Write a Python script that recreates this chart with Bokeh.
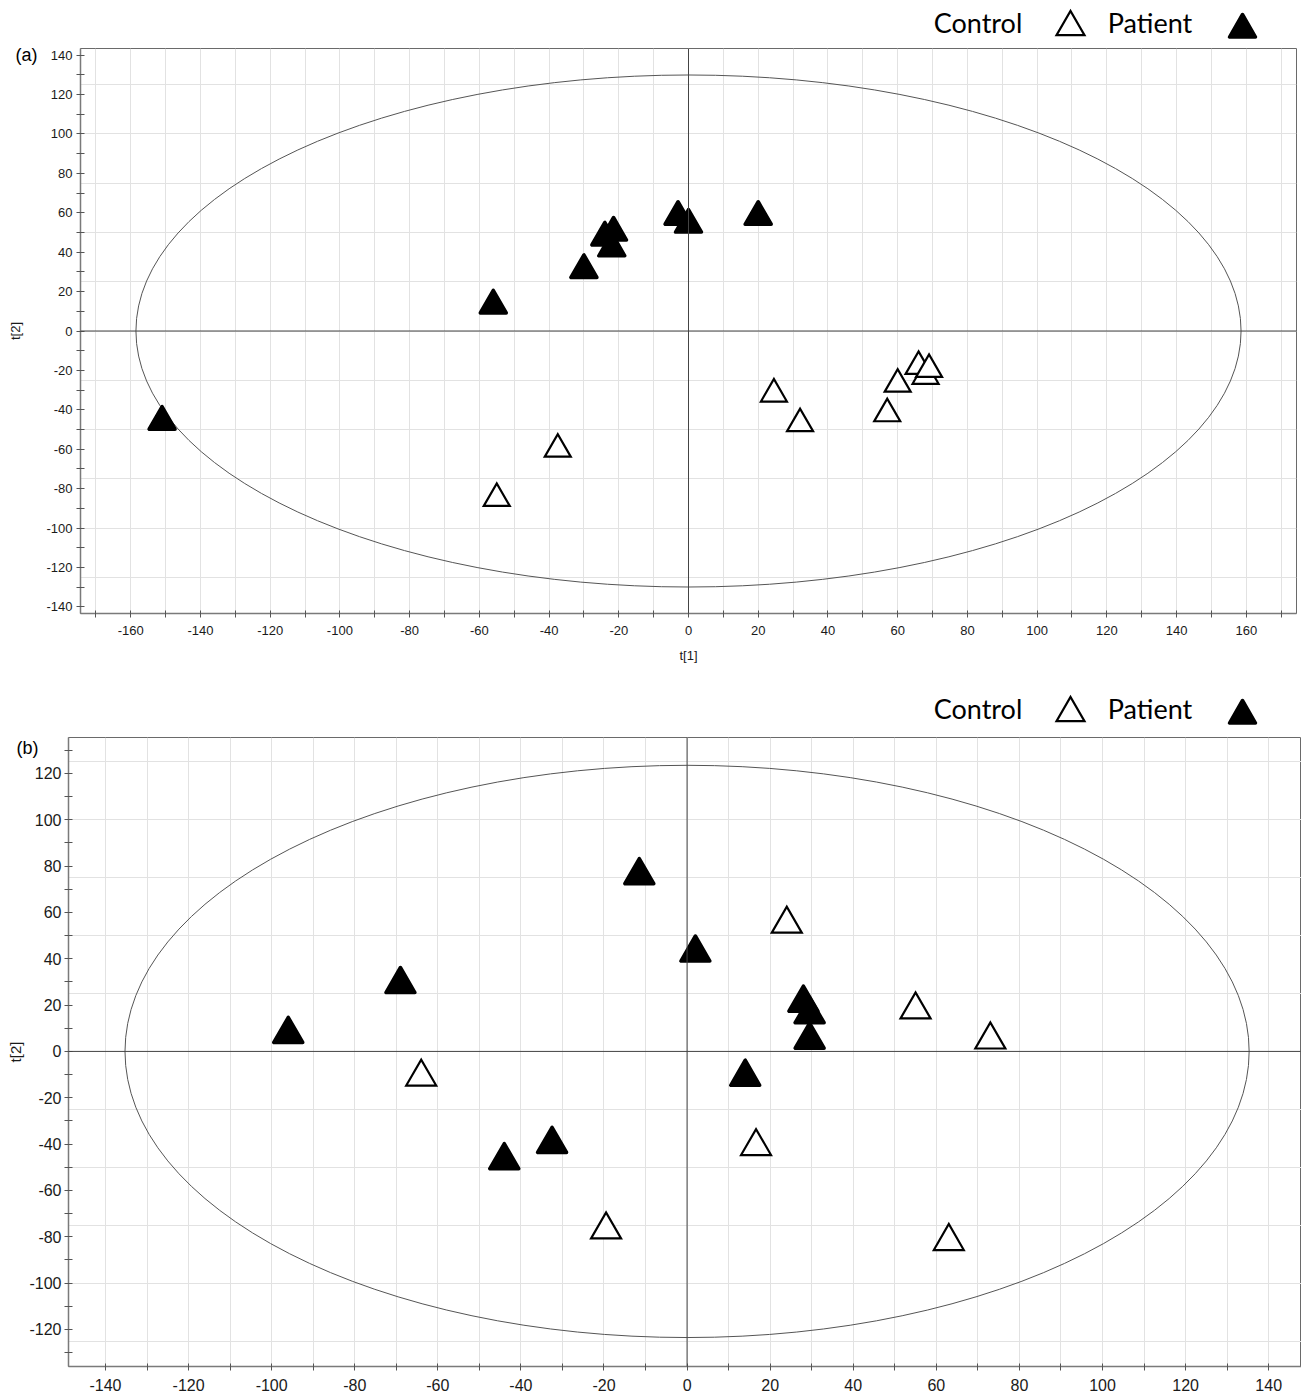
from bokeh.plotting import figure
from bokeh.models import (FixedTicker, Span, ColumnDataSource, Range1d,
                          CustomJSTickFormatter)
from bokeh.layouts import column, row
from bokeh.core.properties import value
from bokeh.embed import file_html
from bokeh.resources import INLINE

# ---------------- data: panel (a) ----------------
a_control_x = [24.5, 32.0, 57.0, 60.0, 68.0, 66.0, 69.0, -55.0, -37.5]
a_control_y = [-32.0, -47.0, -42.0, -27.0, -23.0, -18.0, -19.5, -85.0, -60.0]
a_patient_x = [-151.0, -56.0, -30.0, -24.0, -21.5, -22.0, -3.0, 0.0, 20.0]
a_patient_y = [-46.0, 13.0, 31.0, 47.5, 50.0, 42.0, 58.0, 54.0, 58.0]
a_ellipse_rx = 158.5
a_ellipse_ry = 130.0
a_xticks = list(range(-160, 161, 20))
a_xminor = list(range(-170, 171, 20))
a_yticks = list(range(-140, 141, 20))
a_yminor = list(range(-130, 131, 20))

# ---------------- data: panel (b) ----------------
b_control_x = [-64.0, -19.5, 24.0, 16.6, 55.0, 73.0, 63.0]
b_control_y = [-11.0, -77.0, 55.0, -41.0, 18.0, 5.0, -82.0]
b_patient_x = [-96.0, -69.0, -11.5, 2.0, 28.0, 29.5, 29.5, 14.0, -32.5, -44.0]
b_patient_y = [7.5, 29.0, 76.0, 42.6, 21.0, 16.0, 5.0, -11.0, -40.0, -47.0]
b_ellipse_rx = 135.3
b_ellipse_ry = 123.5
b_xticks = list(range(-140, 141, 20))
b_xminor = list(range(-150, 151, 20))
b_yticks = list(range(-120, 121, 20))
b_yminor = list(range(-130, 131, 20))

grid_x = list(range(-170, 171, 10))
grid_y = [-125, -100, -75, -50, -25, 0, 25, 50, 75, 100, 125]

legend_labels = ["Control", "Patient"]
panel_tags = ["(a)", "(b)"]
x_title = "t[1]"
y_title = "t[2]"

TICK_FONT = "Liberation Sans"
LEG_FONT = "Lato"
PAGE_W, PAGE_H = 1301, 1397


def make_panel(cx, cy, px, py, rx, ry, xr, yr, xt, xm, yt, ym,
               width, height, borders, tick_size, ylab_size, mk_open, mk_fill,
               x_label, cfg):
    bl, br, bt, bb = borders
    p = figure(width=width, height=height,
               x_range=Range1d(*xr), y_range=Range1d(*yr),
               output_backend="svg", toolbar_location=None,
               min_border_left=bl, min_border_right=br,
               min_border_top=bt, min_border_bottom=bb)
    p.background_fill_color = "white"
    p.border_fill_color = "white"
    p.outline_line_color = "#6a6a6a"
    p.outline_line_width = 1

    p.xgrid.ticker = FixedTicker(ticks=grid_x)
    p.ygrid.ticker = FixedTicker(ticks=grid_y)
    for g in (p.xgrid, p.ygrid):
        g.grid_line_color = "#e2e2e2"
        g.grid_line_width = 1

    fmt = "return tick.toString()"
    p.xaxis.ticker = FixedTicker(ticks=xt, minor_ticks=xm)
    p.yaxis.ticker = FixedTicker(ticks=yt, minor_ticks=ym)
    for ax in (p.xaxis, p.yaxis):
        ax.formatter = CustomJSTickFormatter(code=fmt)
        ax.axis_line_color = "#7a7a7a"
        ax.axis_line_width = 1.5
        ax.major_tick_line_color = "#555555"
        ax.minor_tick_line_color = "#555555"
        ax.major_label_text_font = TICK_FONT
        ax.major_label_text_font_size = tick_size
        ax.major_label_text_color = "#1a1a1a"
        ax.axis_label_text_font = TICK_FONT
        ax.axis_label_text_font_style = "normal"
        ax.axis_label_text_font_size = ylab_size
        ax.axis_label_text_color = "#1a1a1a"
    p.xaxis.major_tick_in = 3
    p.xaxis.major_tick_out = 4
    p.xaxis.minor_tick_in = 3
    p.xaxis.minor_tick_out = 4
    p.yaxis.major_tick_in = 4
    p.yaxis.major_tick_out = 4
    p.yaxis.minor_tick_in = 4
    p.yaxis.minor_tick_out = 4
    p.xaxis.major_label_standoff = cfg["x_standoff"]
    p.yaxis.major_label_standoff = cfg["y_standoff"]
    p.yaxis.axis_label = y_title
    p.yaxis.axis_label_standoff = cfg["ylab_standoff"]
    if x_label:
        p.xaxis.axis_label = x_label
        p.xaxis.axis_label_standoff = cfg["xlab_standoff"]

    p.ellipse(x=[0], y=[0], width=[2 * rx], height=[2 * ry],
              fill_color=None, line_color="#555555", line_width=1)

    p.add_layout(Span(location=0, dimension="height", line_color="#444444", line_width=1))
    p.add_layout(Span(location=0, dimension="width", line_color="#444444", line_width=1))

    src_c = ColumnDataSource(dict(x=cx, y=cy))
    src_p = ColumnDataSource(dict(x=px, y=py))
    p.scatter("x", "y", source=src_c, marker="triangle", size=mk_open,
              fill_color="white", line_color="black", line_width=2.2,
              line_join="miter")
    p.scatter("x", "y", source=src_p, marker="triangle", size=mk_fill,
              fill_color="black", line_color="black", line_width=3.5,
              line_join="round")
    return p


pa = make_panel(a_control_x, a_control_y, a_patient_x, a_patient_y,
                a_ellipse_rx, a_ellipse_ry, (-174.4, 174.4), (-143.4, 143.4),
                a_xticks, a_xminor, a_yticks, a_yminor,
                PAGE_W, 680, (80, 5, 48, 67), "13px", "13px", 26, 26,
                x_title, dict(x_standoff=8, y_standoff=4, ylab_standoff=20,
                              xlab_standoff=10))

pb = make_panel(b_control_x, b_control_y, b_patient_x, b_patient_y,
                b_ellipse_rx, b_ellipse_ry, (-148.9, 147.9), (-136.0, 135.5),
                b_xticks, b_xminor, b_yticks, b_yminor,
                PAGE_W, 717, (68, 0, 57, 31), "16px", "15px", 30, 29,
                None, dict(x_standoff=8, y_standoff=3, ylab_standoff=2,
                           xlab_standoff=5))

# ---------------- overlay: legends and panel tags (page pixel space) ----------------
legend_rows_y = [22.0, 708.0]          # text anchor rows of the two legends
legend_text_x = [977.5, 1149.5]
legend_open_xy = [(1070, 26.5), (1070, 712.5)]
legend_fill_xy = [(1242, 29.0), (1242, 715.0)]
tag_xy = [(26, 54), (27, 747)]

ov = figure(width=PAGE_W, height=PAGE_H,
            x_range=Range1d(0, PAGE_W), y_range=Range1d(PAGE_H, 0),
            output_backend="svg", toolbar_location=None,
            x_axis_type=None, y_axis_type=None, min_border=0)
ov.outline_line_color = None
ov.background_fill_color = None
ov.border_fill_color = None
ov.grid.visible = False

tx, ty, tt = [], [], []
for yb in legend_rows_y:
    for lx, lab in zip(legend_text_x, legend_labels):
        tx.append(lx); ty.append(yb); tt.append(lab)
ov.text(x=tx, y=ty, text=tt, text_font=value(LEG_FONT), text_font_size=value("27px"),
        text_color="black", text_align="center", text_baseline="alphabetic")
ov.scatter(x=[q[0] for q in legend_open_xy], y=[q[1] for q in legend_open_xy],
           marker="triangle", size=28, fill_color="white", line_color="black",
           line_width=2.2, line_join="miter")
ov.scatter(x=[q[0] for q in legend_fill_xy], y=[q[1] for q in legend_fill_xy],
           marker="triangle", size=26, fill_color="black", line_color="black",
           line_width=3.5, line_join="round")
ov.text(x=[q[0] for q in tag_xy], y=[q[1] for q in tag_xy], text=panel_tags,
        text_font=value(TICK_FONT), text_font_size=value("18px"),
        text_color="black", text_align="center", text_baseline="middle")

layout = column(row(pa), row(pb), row(ov, margin=(-PAGE_H, 0, 0, 0)))
open("out.html", "w").write(file_html(layout, INLINE))
